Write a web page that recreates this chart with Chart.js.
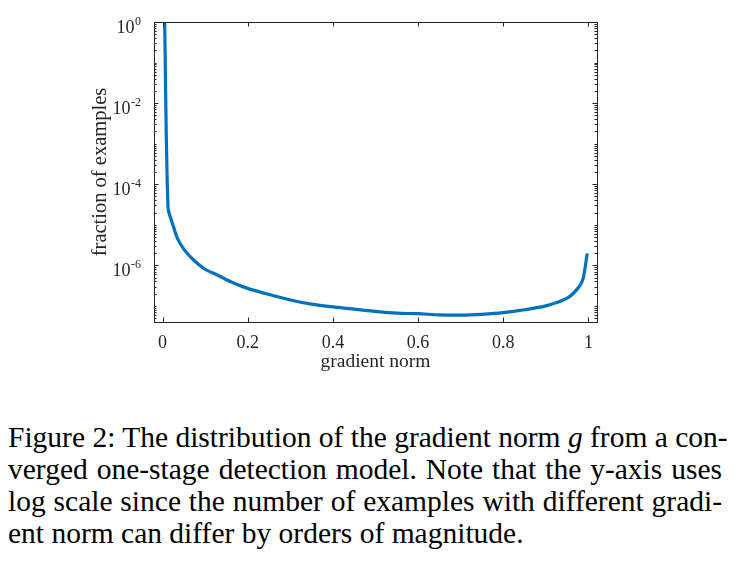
<!DOCTYPE html>
<html>
<head>
<meta charset="utf-8">
<script src="https://cdn.jsdelivr.net/npm/chart.js@4/dist/chart.umd.min.js"></script>
<style>
  html, body { margin: 0; padding: 0; background: #fff; }
  #wrap { position: relative; width: 736px; height: 578px; overflow: hidden; }
  #box { position: absolute; left: 0; top: 0; width: 736px; height: 400px; }
  #caption {
    position: absolute; left: 8px; top: 421px; width: 714px;
    font-family: "Liberation Serif", "Times New Roman", serif;
    font-size: 29.5px; line-height: 32px; color: #000;
  }
  #caption div { text-align: justify; text-align-last: justify; white-space: nowrap; }
  #caption div.last { text-align-last: left; }
</style>
</head>
<body>
<div id="wrap">
  <div id="box"><canvas id="chart"></canvas></div>
  <div id="caption">
    <div>Figure 2: The distribution of the gradient norm <i>g</i> from a con-</div>
    <div>verged one-stage detection model. Note that the y-axis uses</div>
    <div>log scale since the number of examples with different gradi-</div>
    <div class="last">ent norm can differ by orders of magnitude.</div>
  </div>
</div>
<script>
// values
const gradNorm = [0.005, 0.013, 0.025, 0.035, 0.05, 0.07, 0.1, 0.13, 0.16, 0.2, 0.25, 0.3, 0.35,
  0.4, 0.45, 0.5, 0.55, 0.6, 0.65, 0.7, 0.75, 0.8, 0.85, 0.9, 0.95, 0.975, 0.987, 0.997];
const fraction = [0.99, 2.6e-5, 9.5e-6, 4.6e-6, 2.5e-6, 1.45e-6, 8.0e-7, 5.7e-7, 3.95e-7, 2.7e-7,
  1.9e-7, 1.4e-7, 1.1e-7, 9.4e-8, 8.3e-8, 7.3e-8, 6.6e-8, 6.4e-8, 6.0e-8, 5.9e-8, 6.2e-8,
  6.8e-8, 8.0e-8, 1.0e-7, 1.55e-7, 2.7e-7, 4.5e-7, 1.96e-6];
const xTicks = [0, 0.2, 0.4, 0.6, 0.8, 1];
const xTickLabels = ['0', '0.2', '0.4', '0.6', '0.8', '1'];
const yDecades = [0, -2, -4, -6];   // labelled powers of ten
const xTitle = 'gradient norm';
const yTitle = 'fraction of examples';

const axisColor = '#262626';
const serif = '"Liberation Serif", "Times New Roman", serif';

// box, inward ticks and all axis text, drawn from the scales
const matlabAxes = {
  id: 'matlabAxes',
  afterDraw(chart) {
    const ctx = chart.ctx;
    const a = chart.chartArea;
    const xs = chart.scales.x, ys = chart.scales.y;
    ctx.save();
    ctx.strokeStyle = axisColor;
    ctx.lineWidth = 1;
    ctx.strokeRect(Math.round(a.left) + 0.5, Math.round(a.top) + 0.5,
      Math.round(a.right - a.left), Math.round(a.bottom - a.top));

    ctx.beginPath();
    xTicks.forEach(v => {
      const px = Math.round(xs.getPixelForValue(v)) + 0.5;
      ctx.moveTo(px, a.bottom); ctx.lineTo(px, a.bottom - 4.5);
      ctx.moveTo(px, a.top); ctx.lineTo(px, a.top + 4.5);
    });
    for (let e = -8; e <= 0; e++) {
      for (let m = 1; m <= 9; m++) {
        const v = m * Math.pow(10, e);
        if (v < ys.min || v > ys.max) continue;
        const len = (m === 1 && e % 2 === 0) ? 4.5 : 2.5;
        const py = Math.round(ys.getPixelForValue(v)) + 0.5;
        ctx.moveTo(a.left, py); ctx.lineTo(a.left + len, py);
        ctx.moveTo(a.right, py); ctx.lineTo(a.right - len, py);
      }
    }
    ctx.stroke();

    ctx.fillStyle = axisColor;
    ctx.font = '18px ' + serif;
    ctx.textAlign = 'center';
    ctx.textBaseline = 'alphabetic';
    xTicks.forEach((v, i) => {
      ctx.fillText(xTickLabels[i], xs.getPixelForValue(v), 347.5);
    });

    yDecades.forEach(e => {
      const py = ys.getPixelForValue(Math.pow(10, e));
      const exp = e === 0 ? '0' : '-' + Math.abs(e);
      ctx.textAlign = 'right';
      ctx.font = '12px ' + serif;
      ctx.fillText(exp, 141, py + 3);
      const w = ctx.measureText(exp).width;
      ctx.font = '18px ' + serif;
      ctx.fillText('10', 141 - w - 0.5, py + 11);
    });

    ctx.font = '19.5px ' + serif;
    ctx.textAlign = 'center';
    ctx.fillText(xTitle, (a.left + a.right) / 2, 367);

    ctx.save();
    ctx.translate(105.5, (a.top + a.bottom) / 2);
    ctx.rotate(-Math.PI / 2);
    ctx.font = '20.5px ' + serif;
    ctx.fillText(yTitle, 0, 0);
    ctx.restore();
    ctx.restore();
  }
};

const ctx = document.getElementById('chart');
const myChart = new Chart(ctx, {
  type: 'line',
  data: {
    datasets: [{
      label: yTitle,
      data: gradNorm.map((g, i) => ({ x: g, y: fraction[i] })),
      borderColor: '#0072BD',
      borderWidth: 3.2,
      pointRadius: 0,
      tension: 0.25,
      fill: false
    }]
  },
  options: {
    responsive: true,
    maintainAspectRatio: false,
    animation: false,
    layout: { padding: { left: 0, top: 22, right: 139, bottom: 0 } },
    plugins: { legend: { display: false }, tooltip: { enabled: false } },
    scales: {
      x: {
        type: 'linear', min: -0.02, max: 1.02,
        grid: { display: false }, border: { display: false },
        ticks: { display: false },
        afterFit: s => { s.height = 78; }
      },
      y: {
        type: 'logarithmic', min: 4e-8, max: 1,
        grid: { display: false }, border: { display: false },
        ticks: { display: false },
        afterFit: s => { s.width = 154; }
      }
    }
  },
  plugins: [matlabAxes]
});
</script>
</body>
</html>
